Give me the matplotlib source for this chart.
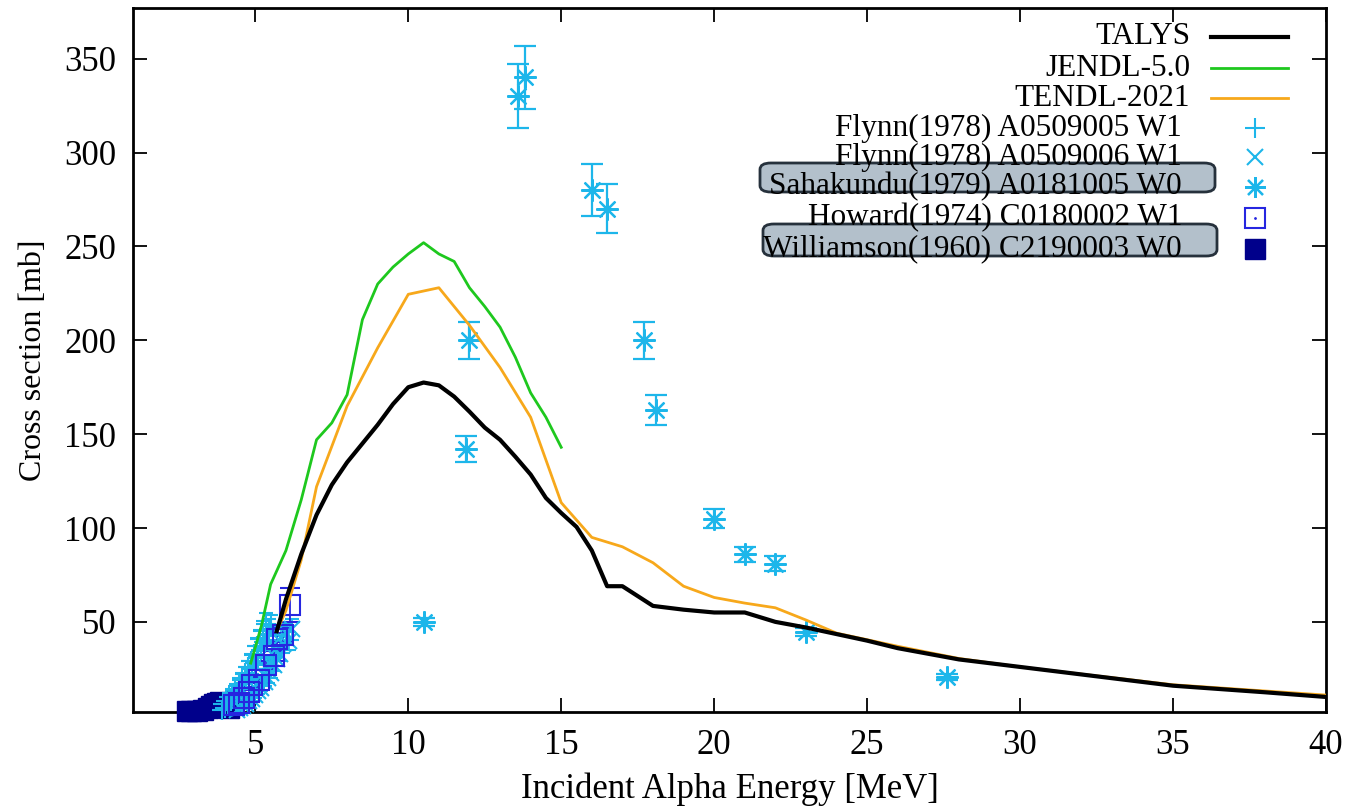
import numpy as np
import matplotlib
matplotlib.use("Agg")
import matplotlib.pyplot as plt
from matplotlib.patches import FancyBboxPatch
from matplotlib.lines import Line2D

plt.rcParams['font.family'] = ['Liberation Serif', 'DejaVu Serif']

# --- evaluated curves ---
talys_e = [5.7, 6.0, 6.5, 7.0, 7.5, 8.0, 9.0, 9.5, 10.0, 10.5, 11.0, 11.5, 12.0, 12.5,
           13.0, 13.5, 14.0, 14.5, 15.0, 15.5, 16.0, 16.5, 17.0, 18.0, 19.0, 20.0, 21.0,
           22.0, 23.0, 24.0, 25.0, 26.0, 28.0, 30.0, 32.0, 35.0, 38.0, 40.0]
talys_xs = [45, 62, 86, 107, 123, 135, 155, 166, 175, 177.5, 176, 170, 162, 153.5,
            147, 138, 128.5, 116, 108, 100.6, 88, 69, 69, 58.5, 56.5, 55, 55,
            50, 47, 43.5, 40, 36, 30, 26, 22, 16, 12.5, 10]

jendl_e = [4.85, 5.2, 5.5, 6.0, 6.5, 7.0, 7.5, 8.0, 8.5, 9.0, 9.5, 10.0, 10.5, 11.0,
           11.5, 12.0, 12.5, 13.0, 13.5, 14.0, 14.5, 15.0]
jendl_xs = [28, 48, 70, 88, 115, 147, 156, 171, 211, 230, 239, 246, 252, 246,
            242, 228, 218, 207, 191, 172, 159, 143]

tendl_e = [5.7, 6.0, 6.5, 7.0, 8.0, 9.0, 10.0, 11.0, 12.0, 13.0, 14.0, 15.0, 16.0,
           17.0, 18.0, 19.0, 20.0, 21.0, 22.0, 23.0, 24.0, 25.0, 26.0, 28.0, 30.0,
           35.0, 40.0]
tendl_xs = [45, 56, 83, 122, 165, 196, 224.5, 228, 208, 185.5, 159, 113.5, 95,
            90, 81.5, 69, 63, 60, 57.5, 51, 44, 40.5, 37, 30.5, 26, 16.5, 11]

# --- EXFOR data ---
flynn5_e = [3.9, 3.95, 4.0, 4.05, 4.1, 4.15, 4.2, 4.25, 4.3, 4.35, 4.4, 4.45, 4.5, 4.55,
            4.6, 4.65, 4.7, 4.75, 4.8, 4.85, 4.9, 4.95, 5.0, 5.05, 5.1, 5.15, 5.2, 5.25,
            5.3, 5.35, 5.4, 5.45, 5.5]
flynn5_xs = [3, 6, 4, 8, 6, 10, 8, 12, 10, 14, 12, 17, 14, 20, 17, 23, 19, 26, 22, 29,
             25, 33, 28, 37, 31, 41, 35, 45, 39, 49, 43, 46, 48]
flynn6_e = [4.4, 4.5, 4.6, 4.65, 4.7, 4.8, 4.85, 4.9, 5.0, 5.05, 5.1, 5.2, 5.25, 5.3,
            5.4, 5.45, 5.5, 5.6, 5.65, 5.7, 5.8, 5.85, 5.9, 6.0, 6.1, 6.2]
flynn6_xs = [3, 4, 5, 9, 6, 8, 13, 9, 11, 17, 13, 15, 22, 18, 20, 28, 23, 27, 35, 30,
             33, 42, 38, 44, 40, 46]

saha_e = [10.5, 11.9, 12.0, 13.6, 13.82, 16.0, 16.5, 17.7, 18.1, 20.0, 21.0, 22.0, 23.0, 27.6]
saha_xs = [50, 142, 200, 330, 340, 280, 270, 200, 163, 105, 86, 81, 44.5, 20.6]
saha_err = [2, 7, 10, 17, 17, 14, 13, 10, 8, 5, 4, 4, 2, 1.5]

howard_e = [4.3, 4.48, 4.64, 4.8, 4.9, 5.13, 5.36, 5.6, 5.7, 5.9, 6.14]
howard_xs = [5.7, 6.8, 9.4, 12.6, 16.5, 19, 27, 32, 41, 43, 59]
howard_err = [0.5, 0.6, 0.8, 1.0, 1.3, 1.5, 2.2, 2.6, 3.3, 3.5, 9]

will_e = [2.75, 2.9, 3.1, 3.3, 3.45, 3.55, 3.65, 3.75, 3.85, 3.95, 4.05, 4.15]
will_xs = [2.3, 2.4, 2.5, 2.8, 4, 5, 6, 7, 7.2, 6.5, 5.5, 4]

labels = ['TALYS', 'JENDL-5.0', 'TENDL-2021', 'Flynn(1978) A0509005 W1',
          'Flynn(1978) A0509006 W1', 'Sahakundu(1979) A0181005 W0',
          'Howard(1974) C0180002 W1', 'Williamson(1960) C2190003 W0']

c_exp = '#1db6ea'
c_howard = '#2626e0'
c_will = '#00008b'
c_green = '#1ec81e'
c_orange = '#f7a81b'
star = (8, 2, 0)

fig = plt.figure(figsize=(13.64, 8.11), dpi=100)
ax = fig.add_axes([0.0975, 0.1221, 0.8746, 0.868])

ax.plot(talys_e, talys_xs, color='black', lw=3.0, zorder=5)
ax.plot(jendl_e, jendl_xs, color=c_green, lw=2.0, zorder=4)
ax.plot(tendl_e, tendl_xs, color=c_orange, lw=2.0, zorder=4)

f5 = np.array(flynn5_xs, float)
f6 = np.array(flynn6_xs, float)
ax.errorbar(flynn5_e, flynn5_xs, yerr=0.12 * f5, fmt='+', color=c_exp, ms=15, mew=1.5,
            elinewidth=1.2, capsize=5, zorder=3, clip_on=False)
ax.errorbar(flynn6_e, flynn6_xs, yerr=0.12 * f6, fmt='x', color=c_exp, ms=12, mew=1.5,
            elinewidth=1.2, capsize=5, zorder=3, clip_on=False)
ax.errorbar(saha_e, saha_xs, yerr=saha_err, fmt='none', ecolor=c_exp, elinewidth=1.6,
            capsize=8, capthick=1.6, zorder=3)
ax.plot(saha_e, saha_xs, linestyle='none', marker=star, color=c_exp, ms=16, mew=1.6, zorder=3)
ax.errorbar(howard_e, howard_xs, yerr=howard_err, fmt='s', mfc='none', mec=c_howard,
            ecolor=c_howard, ms=15, mew=1.5, elinewidth=1.3, capsize=7, zorder=3, clip_on=False)
ax.plot(will_e, will_xs, linestyle='none', marker='s', color=c_will, ms=14, zorder=3, clip_on=False)

ax.set_xlim(1, 40)
ax.set_ylim(2, 377)
ax.set_xticks([5, 10, 15, 20, 25, 30, 35, 40])
ax.set_yticks([50, 100, 150, 200, 250, 300, 350])
ax.tick_params(direction='in', length=10, width=1.3, labelsize=25, top=True, right=True, pad=12)
for s in ax.spines.values():
    s.set_linewidth(2)
ax.set_xlabel('Incident Alpha Energy [MeV]', fontsize=25, labelpad=8)
ax.set_ylabel('Cross section [mb]', fontsize=23, labelpad=12)

# --- key (gnuplot style: right aligned text, sample to the right) ---
W, H = 1364.0, 811.0
def fx(px):
    return px / W
def fy(py):
    return 1 - py / H

for (bx0, by0, bx1, by1) in [(760, 163, 1215, 192), (763, 224, 1217, 256)]:
    box = FancyBboxPatch((fx(bx0), fy(by1)), fx(bx1) - fx(bx0), fy(by0) - fy(by1),
                         boxstyle='round,pad=0,rounding_size=0.008', transform=fig.transFigure,
                         facecolor='#b3c0cb', edgecolor='#26313c', lw=2, zorder=1)
    fig.add_artist(box)

rows = [37, 68, 98, 128, 157, 187, 218, 249]
for i, (lab, py) in enumerate(zip(labels, rows)):
    tx = 1190 if i < 3 else 1182
    fig.text(fx(tx), fy(py), lab, ha='right', va='center', fontsize=22.5, zorder=3)
styles = [dict(color='black', lw=3.0), dict(color=c_green, lw=2.0), dict(color=c_orange, lw=2.0)]
for st, py in zip(styles, rows[:3]):
    fig.add_artist(Line2D([fx(1211), fx(1288)], [fy(py), fy(py)], transform=fig.transFigure, **st))
mk = [dict(marker='+', color=c_exp, ms=14, mew=1.5),
      dict(marker='x', color=c_exp, ms=11, mew=1.5),
      dict(marker=star, color=c_exp, ms=15, mew=1.6),
      dict(marker='s', mfc='none', mec=c_howard, ms=14, mew=1.5),
      dict(marker='s', color=c_will, ms=14)]
for st, py in zip(mk, rows[3:]):
    fig.add_artist(Line2D([fx(1255)], [fy(py)], transform=fig.transFigure, linestyle='none', **st))
fig.add_artist(Line2D([fx(1255)], [fy(rows[6])], transform=fig.transFigure, linestyle='none',
                      marker='.', color=c_howard, ms=2))

fig.savefig('out.png', dpi=100)
